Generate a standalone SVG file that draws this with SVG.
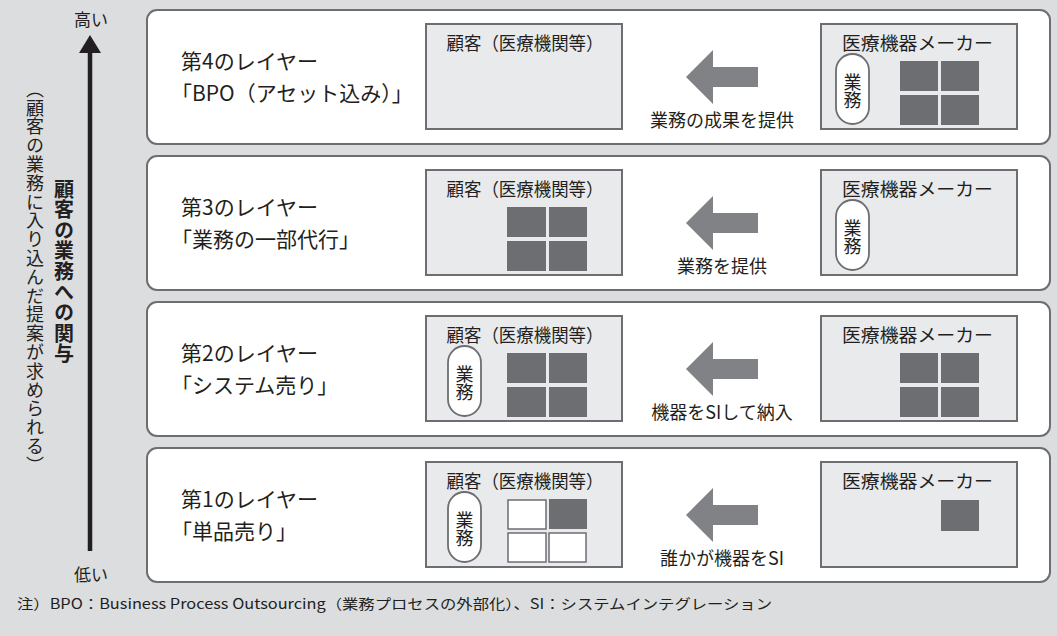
<svg xmlns="http://www.w3.org/2000/svg" width="1057" height="636" viewBox="0 0 1057 636">
<style>
text{font-family:"Noto Sans CJK JP","Noto Sans",sans-serif;fill:#231f20}
.panel{fill:#fff;stroke:#6d6e71;stroke-width:2}
.box{fill:#e9eaec;stroke:#6d6e71;stroke-width:2}
.sq{fill:#6d6e71}
.wsq{fill:#fff;stroke:#6d6e71;stroke-width:1.5}
.pill{fill:#fff;stroke:#6d6e71;stroke-width:1.8}
.ttl{font-size:21px}
.lbl{font-size:18px;text-anchor:middle}
.alb{font-size:18px;text-anchor:middle}
.pt{font-size:18px;writing-mode:vertical-rl}
.arr{fill:#808285}
</style>
<defs>
<path id="arw" class="arr" d="M686,67 L713,40 L713,57 L758,57 L758,77 L713,77 L713,94 Z"/>
</defs>
<rect x="0" y="0" width="1057" height="636" fill="#dcdddf"/>

<g id="axis">
<line x1="90" y1="50" x2="90" y2="551" stroke="#231f20" stroke-width="4.5"/>
<polygon points="90,35 79,53 101,53" fill="#231f20"/>
<text x="91" y="26" style="font-size:17px;text-anchor:middle">高い</text>
<text x="91" y="581" style="font-size:17px;text-anchor:middle">低い</text>
<text x="64" y="179" style="font-size:20px;font-weight:bold;writing-mode:vertical-rl;letter-spacing:0.6px">顧客の業務への関与</text>
<text x="35" y="80" style="font-size:18px;writing-mode:vertical-rl;letter-spacing:0.8px">（顧客の業務に入り込んだ提案が求められる）</text>
</g>

<g id="layer4" transform="translate(0,10)">
<rect class="panel" x="147" y="0" width="903" height="134" rx="10"/>
<text class="ttl" x="181" y="59">第4のレイヤー</text>
<text class="ttl" x="171" y="91">「BPO（アセット込み）」</text>
<rect class="box" x="426" y="14" width="196" height="105"/>
<text class="lbl" x="525" y="40" textLength="157" lengthAdjust="spacingAndGlyphs">顧客（医療機関等）</text>
<use href="#arw"/>
<text class="alb" x="722" y="117">業務の成果を提供</text>
<rect class="box" x="821" y="14" width="196" height="105"/>
<text class="lbl" x="917.5" y="40" textLength="151" lengthAdjust="spacingAndGlyphs">医療機器メーカー</text>
<rect class="pill" x="836" y="44" width="33" height="70" rx="16.5"/>
<text class="pt" x="852.5" y="63">業務</text>
<rect class="sq" x="900" y="51" width="38" height="30"/>
<rect class="sq" x="941" y="51" width="38" height="30"/>
<rect class="sq" x="900" y="85" width="38" height="30"/>
<rect class="sq" x="941" y="85" width="38" height="30"/>
</g>

<g id="layer3" transform="translate(0,156)">
<rect class="panel" x="147" y="0" width="903" height="134" rx="10"/>
<text class="ttl" x="181" y="59">第3のレイヤー</text>
<text class="ttl" x="171" y="91">「業務の一部代行」</text>
<rect class="box" x="426" y="14" width="196" height="105"/>
<text class="lbl" x="525" y="40" textLength="157" lengthAdjust="spacingAndGlyphs">顧客（医療機関等）</text>
<rect class="sq" x="507" y="51" width="39" height="30"/>
<rect class="sq" x="549" y="51" width="38" height="30"/>
<rect class="sq" x="507" y="85" width="39" height="30"/>
<rect class="sq" x="549" y="85" width="38" height="30"/>
<use href="#arw"/>
<text class="alb" x="722" y="117">業務を提供</text>
<rect class="box" x="821" y="14" width="196" height="105"/>
<text class="lbl" x="917.5" y="40" textLength="151" lengthAdjust="spacingAndGlyphs">医療機器メーカー</text>
<rect class="pill" x="836" y="44" width="33" height="70" rx="16.5"/>
<text class="pt" x="852.5" y="63">業務</text>
</g>

<g id="layer2" transform="translate(0,302)">
<rect class="panel" x="147" y="0" width="903" height="134" rx="10"/>
<text class="ttl" x="181" y="59">第2のレイヤー</text>
<text class="ttl" x="171" y="91">「システム売り」</text>
<rect class="box" x="426" y="14" width="196" height="105"/>
<text class="lbl" x="525" y="40" textLength="157" lengthAdjust="spacingAndGlyphs">顧客（医療機関等）</text>
<rect class="pill" x="448" y="44" width="33" height="70" rx="16.5"/>
<text class="pt" x="464.5" y="63">業務</text>
<rect class="sq" x="507" y="51" width="39" height="30"/>
<rect class="sq" x="549" y="51" width="38" height="30"/>
<rect class="sq" x="507" y="85" width="39" height="30"/>
<rect class="sq" x="549" y="85" width="38" height="30"/>
<use href="#arw"/>
<text class="alb" x="722" y="117">機器をSIして納入</text>
<rect class="box" x="821" y="14" width="196" height="105"/>
<text class="lbl" x="917.5" y="40" textLength="151" lengthAdjust="spacingAndGlyphs">医療機器メーカー</text>
<rect class="sq" x="900" y="51" width="38" height="30"/>
<rect class="sq" x="941" y="51" width="38" height="30"/>
<rect class="sq" x="900" y="85" width="38" height="30"/>
<rect class="sq" x="941" y="85" width="38" height="30"/>
</g>

<g id="layer1" transform="translate(0,448)">
<rect class="panel" x="147" y="0" width="903" height="134" rx="10"/>
<text class="ttl" x="181" y="59">第1のレイヤー</text>
<text class="ttl" x="171" y="91">「単品売り」</text>
<rect class="box" x="426" y="14" width="196" height="105"/>
<text class="lbl" x="525" y="40" textLength="157" lengthAdjust="spacingAndGlyphs">顧客（医療機関等）</text>
<rect class="pill" x="448" y="44" width="33" height="70" rx="16.5"/>
<text class="pt" x="464.5" y="63">業務</text>
<rect class="wsq" x="508" y="52" width="38" height="29"/>
<rect class="sq" x="549" y="51" width="38" height="30"/>
<rect class="wsq" x="508" y="85" width="38" height="29"/>
<rect class="wsq" x="549" y="85" width="37" height="29"/>
<use href="#arw"/>
<text class="alb" x="722" y="117">誰かが機器をSI</text>
<rect class="box" x="821" y="14" width="196" height="105"/>
<text class="lbl" x="917.5" y="40" textLength="151" lengthAdjust="spacingAndGlyphs">医療機器メーカー</text>
<rect class="sq" x="941" y="52" width="38" height="31"/>
</g>

<g id="note">
<text x="17" y="609" style="font-size:14px" textLength="755" lengthAdjust="spacingAndGlyphs">注）BPO：Business Process Outsourcing（業務プロセスの外部化）、SI：システムインテグレーション</text>
</g>
</svg>
